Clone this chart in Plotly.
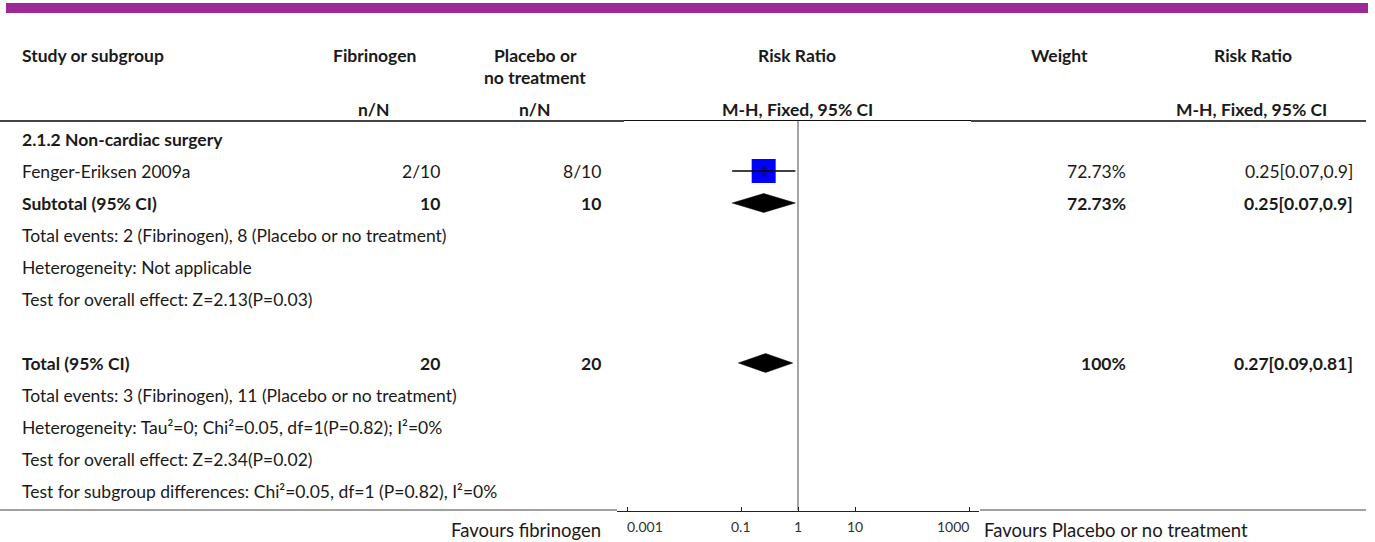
import math
import plotly.graph_objects as go

# ---- data -------------------------------------------------------------
group_title = "2.1.2 Non-cardiac surgery"
studies = ["Fenger-Eriksen 2009a"]
fib_events = [2]
fib_total = [10]
plc_events = [8]
plc_total = [10]
study_rr = [0.25]
study_lo = [0.07]
study_hi = [0.9]
study_weight = [72.73]

sub_rr, sub_lo, sub_hi = 0.25, 0.07, 0.9
sub_weight = 72.73
sub_fib_n, sub_plc_n = 10, 10
sub_fib_ev, sub_plc_ev = 2, 8

tot_rr, tot_lo, tot_hi = 0.27, 0.09, 0.81
tot_weight = 100
tot_fib_n, tot_plc_n = 20, 20
tot_fib_ev, tot_plc_ev = 3, 11

tick_vals = [0.001, 0.1, 1, 10, 1000]
tick_text = ["0.001", "0.1", "1", "10", "1000"]

# ---- layout constants (pixels) ----------------------------------------
W, H = 1375, 542
FONT = "Lato"
FS = 17.5
TXT = "#1a1a1a"
AXIS_Y = 510.5          # bottom rule / forest axis line
ROW0, STEP = 139, 32    # first body row and row pitch

X_LEFT = 22
X_FIB = 440
X_PLC = 601
X_WEIGHT = 1126
X_RR = 1353

fig = go.Figure()

annotations = []


def txt(x, y, s, anchor="left", bold=False, size=FS, xref="x", yref="y",
        color=TXT):
    annotations.append(dict(
        x=x, y=y, xref=xref, yref=yref, text=f"<b>{s}</b>" if bold else s,
        showarrow=False, xanchor=anchor, yanchor="middle",
        borderpad=0, borderwidth=0,
        font=dict(family=FONT, size=size, color=color),
    ))


def paper_y(py):
    return (H - py) / H


def fmt_ci(r, lo, hi):
    return f"{r}[{lo},{hi}]"


def fmt_w(w):
    return f"{w}%"


# header
txt(X_LEFT, 55, "Study or subgroup", bold=True)
txt(374, 55, "Fibrinogen", "center", bold=True)
txt(535, 55, "Placebo or", "center", bold=True)
txt(535, 77, "no treatment", "center", bold=True)
txt(797, 55, "Risk Ratio", "center", bold=True)
txt(1059, 55, "Weight", "center", bold=True)
txt(1253, 55, "Risk Ratio", "center", bold=True)
txt(374, 109, "n/N", "center", bold=True)
txt(535, 109, "n/N", "center", bold=True)
txt(797, 109, "M-H, Fixed, 95% CI", "center", bold=True)
txt(1251, 109, "M-H, Fixed, 95% CI", "center", bold=True)

rows = [ROW0 + STEP * i for i in range(12)]

# subgroup
txt(X_LEFT, rows[0], group_title, bold=True)
for i, name in enumerate(studies):
    y = rows[1 + i]
    txt(X_LEFT, y, name)
    txt(X_FIB, y, f"{fib_events[i]}/{fib_total[i]}", "right")
    txt(X_PLC, y, f"{plc_events[i]}/{plc_total[i]}", "right")
    txt(X_WEIGHT, y, fmt_w(study_weight[i]), "right")
    txt(X_RR, y, fmt_ci(study_rr[i], study_lo[i], study_hi[i]), "right")

y_sub = rows[2]
txt(X_LEFT, y_sub, "Subtotal (95% CI)", bold=True)
txt(X_FIB, y_sub, str(sub_fib_n), "right", bold=True)
txt(X_PLC, y_sub, str(sub_plc_n), "right", bold=True)
txt(X_WEIGHT, y_sub, fmt_w(sub_weight), "right", bold=True)
txt(X_RR, y_sub, fmt_ci(sub_rr, sub_lo, sub_hi), "right", bold=True)
txt(X_LEFT, rows[3], f"Total events: {sub_fib_ev} (Fibrinogen), {sub_plc_ev} (Placebo or no treatment)")
txt(X_LEFT, rows[4], "Heterogeneity: Not applicable")
txt(X_LEFT, rows[5], "Test for overall effect: Z=2.13(P=0.03)")

y_tot = rows[7]
txt(X_LEFT, y_tot, "Total (95% CI)", bold=True)
txt(X_FIB, y_tot, str(tot_fib_n), "right", bold=True)
txt(X_PLC, y_tot, str(tot_plc_n), "right", bold=True)
txt(X_WEIGHT, y_tot, fmt_w(tot_weight), "right", bold=True)
txt(X_RR, y_tot, fmt_ci(tot_rr, tot_lo, tot_hi), "right", bold=True)
txt(X_LEFT, rows[8], f"Total events: {tot_fib_ev} (Fibrinogen), {tot_plc_ev} (Placebo or no treatment)")
txt(X_LEFT, rows[9], "Heterogeneity: Tau²=0; Chi²=0.05, df=1(P=0.82); I²=0%")
txt(X_LEFT, rows[10], "Test for overall effect: Z=2.34(P=0.02)")
txt(X_LEFT, rows[11], "Test for subgroup differences: Chi²=0.05, df=1 (P=0.82), I²=0%")

# footer (below the axis line, so placed in paper space)
txt(601 / W, paper_y(530), "Favours fibrinogen", "right", size=18.5,
    xref="paper", yref="paper")
txt(984 / W, paper_y(530), "Favours Placebo or no treatment", "left", size=18.5,
    xref="paper", yref="paper")

# axis tick labels: the end labels sit inside the axis extent
for k, (v, t) in enumerate(zip(tick_vals, tick_text)):
    anchor = "left" if k == 0 else ("right" if k == len(tick_vals) - 1 else "center")
    txt(math.log10(v), paper_y(526), t, anchor, size=14, xref="x2", yref="paper",
        color="#333333")

# ---- forest marks (log axis x2) ---------------------------------------
# line of no effect
fig.add_trace(go.Scatter(x=[1, 1], y=[121, AXIS_Y], mode="lines", xaxis="x2",
                         line=dict(color="#a6a6a6", width=2), hoverinfo="skip"))

for i in range(len(studies)):
    y = rows[1 + i]
    fig.add_trace(go.Scatter(x=[study_rr[i]], y=[y], mode="markers", xaxis="x2",
                             marker=dict(symbol="square", size=24, color="#0000ff",
                                         line=dict(width=0)), hoverinfo="skip"))
    fig.add_trace(go.Scatter(x=[study_lo[i], study_hi[i]], y=[y, y], mode="lines",
                             xaxis="x2", line=dict(color="black", width=1.5),
                             hoverinfo="skip"))
    fig.add_trace(go.Scatter(x=[study_rr[i]], y=[y], mode="markers", xaxis="x2",
                             marker=dict(symbol="line-ns", size=8,
                                         line=dict(width=2, color="#101030")),
                             hoverinfo="skip"))


def diamond(rr, lo, hi, y, half=9.5):
    fig.add_trace(go.Scatter(x=[lo, rr, hi, rr, lo], y=[y, y - half, y, y + half, y],
                             mode="lines", fill="toself", fillcolor="black", xaxis="x2",
                             line=dict(color="black", width=0.5), hoverinfo="skip"))


diamond(sub_rr, sub_lo, sub_hi, y_sub)
diamond(tot_rr, tot_lo, tot_hi, y_tot)

# ---- rules ------------------------------------------------------------
shapes = [
    # purple banner
    dict(type="rect", xref="x", yref="y", x0=6, x1=1368, y0=3, y1=13,
         fillcolor="#9d2a98", line=dict(width=0), layer="below"),
    # header rule
    dict(type="line", xref="x", yref="y", x0=0, x1=624, y0=121, y1=121,
         line=dict(color="#444444", width=2)),
    dict(type="line", xref="x", yref="y", x0=624, x1=971, y0=120.5, y1=120.5,
         line=dict(color="#111111", width=1)),
    dict(type="line", xref="x", yref="y", x0=971, x1=1366, y0=121, y1=121,
         line=dict(color="#444444", width=2)),
    # bottom rule either side of the axis
    dict(type="line", xref="x", yref="y", x0=0, x1=617, y0=AXIS_Y, y1=AXIS_Y,
         line=dict(color="#444444", width=2)),
    dict(type="line", xref="x", yref="y", x0=980, x1=1366, y0=AXIS_Y, y1=AXIS_Y,
         line=dict(color="#444444", width=2)),
]

PX_PER_DEC = 57.0
x_left_px, x_right_px = 617, 979
lo_log = -3 - (627 - x_left_px) / PX_PER_DEC
hi_log = 3 + (x_right_px - 969) / PX_PER_DEC

fig.update_layout(
    width=W, height=H, margin=dict(l=0, r=0, t=0, b=0),
    paper_bgcolor="white", plot_bgcolor="rgba(0,0,0,0)",
    showlegend=False,
    annotations=annotations, shapes=shapes,
    xaxis=dict(range=[0, W], domain=[0, 1], anchor="y",
               visible=False, showgrid=False, zeroline=False),
    xaxis2=dict(type="log", domain=[x_left_px / W, x_right_px / W],
                range=[lo_log, hi_log], tickvals=tick_vals, ticktext=tick_text,
                ticks="inside", ticklen=4, tickcolor="#222", tickwidth=1,
                showticklabels=False,
                showline=True, linecolor="#222", linewidth=1,
                showgrid=False, zeroline=False, anchor="y"),
    yaxis=dict(range=[AXIS_Y, 0], domain=[(H - AXIS_Y) / H, 1], visible=False,
               showgrid=False, zeroline=False),
)

fig.write_html("out.html")
